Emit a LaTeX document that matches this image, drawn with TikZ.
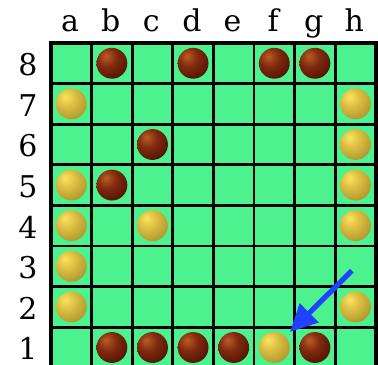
\documentclass[tikz,border=0pt]{standalone}
\usepackage{fontspec}
\setmainfont{DejaVu Serif}
\usetikzlibrary{arrows.meta}

\definecolor{boardgreen}{RGB}{76,242,142}
\definecolor{arrowblue}{RGB}{34,64,255}
\definecolor{brownhi}{RGB}{186,92,38}
\definecolor{brownmid}{RGB}{128,42,14}
\definecolor{browndark}{RGB}{72,14,4}
\definecolor{brownedge}{RGB}{38,4,0}
\definecolor{goldhi}{RGB}{252,228,96}
\definecolor{goldmid}{RGB}{218,188,64}
\definecolor{golddark}{RGB}{164,142,44}
\definecolor{goldedge}{RGB}{118,106,30}

\pgfdeclareradialshading{darkball}{\pgfpoint{-10bp}{12bp}}{%
  color(0bp)=(brownhi); color(16bp)=(brownmid); color(40bp)=(browndark);
  color(62bp)=(brownedge); color(100bp)=(brownedge)}
\pgfdeclareradialshading{lightball}{\pgfpoint{-10bp}{12bp}}{%
  color(0bp)=(goldhi); color(16bp)=(goldmid); color(40bp)=(golddark);
  color(62bp)=(goldedge); color(100bp)=(goldedge)}

\tikzset{
  gridline/.style={line width=2pt, black},
  stone/.style={circle, minimum size=0.76cm, inner sep=0pt},
  darkstone/.style={stone, shading=darkball},
  lightstone/.style={stone, shading=lightball},
  coordlabel/.style={font=\fontsize{21}{24}\selectfont, inner sep=0pt},
  movearrow/.style={arrowblue, line width=3.6pt, shorten >=4.5pt,
    -{Triangle[length=19pt, width=18pt]}}
}

\begin{document}
\begin{tikzpicture}
\useasboundingbox (-1.256,0.069) rectangle (8.054,9.059);

% Board
\fill[boardgreen] (0,0) rectangle (8,8);
\draw[gridline] (0,0) grid (8,8);
\draw[line width=2.4pt] (0,0) rectangle (8,8);

% File and rank labels
\foreach \file [count=\i] in {a,b,c,d,e,f,g,h}
  \node[coordlabel, anchor=base] (file-\file) at (\i-0.53,8.28) {\file};
\foreach \rank in {1,...,8}
  \node[coordlabel] (rank-\rank) at (-0.57,\rank-0.53) {\rank};

% Dark stones
\foreach \file/\x/\rank in {b/1/8, d/3/8, f/5/8, g/6/8, c/2/6, b/1/5,
    b/1/1, c/2/1, d/3/1, e/4/1, g/6/1}
  \node[darkstone] (\file\rank) at (\x+0.5,\rank-0.5) {};

% Light stones
\foreach \file/\x/\rank in {a/0/7, h/7/7, h/7/6, a/0/5, h/7/5, a/0/4,
    c/2/4, h/7/4, a/0/3, a/0/2, h/7/2, f/5/1}
  \node[lightstone] (\file\rank) at (\x+0.5,\rank-0.5) {};

% Last move
\coordinate (arrowtail) at (7.41,2.39);
\draw[movearrow] (arrowtail) -- (f1);

\end{tikzpicture}
\end{document}
